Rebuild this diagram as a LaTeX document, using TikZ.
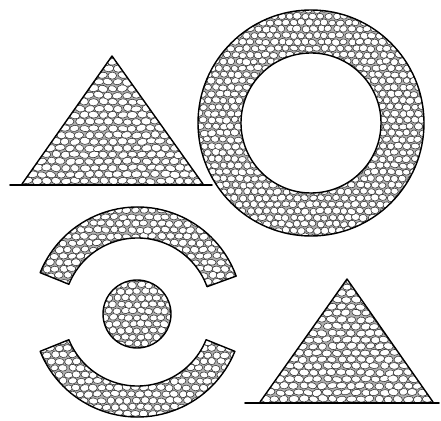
\documentclass[tikz,border=0pt]{standalone}
% Cobblestone fill: a staggered, jittered grid of pale stones on dark mortar.
% #1,#2 = first stone centre, #3 = columns-1, #4 = rows-1, #5,#6 = spacing
\newcommand\stonefill[6]{%
  \foreach \j in {0,...,#4}{%
    \foreach \i in {0,...,#3}{%
      \pgfmathsetmacro\sx{#1+\i*#5+mod(\j,2)*#5*0.5+rand*0.9}%
      \pgfmathsetmacro\sy{#2+\j*#6+rand*0.7}%
      \pgfmathsetmacro\ra{#5*0.5*(1+0.12*rand)}%
      \pgfmathsetmacro\rb{#6*0.5*(1+0.12*rand)}%
      \pgfmathsetmacro\rot{rand*15}%
      \filldraw[stone,rotate around={\rot:(\sx,\sy)}] (\sx,\sy) ellipse[x radius=\ra,y radius=\rb];
    }}}
\begin{document}
\begin{tikzpicture}[x=1pt,y=1pt,
  outline/.style={draw=black,line width=1.4pt,line join=round},
  groundline/.style={line width=1.6pt,line cap=round},
  mortar/.style={fill=black!32},
  stone/.style={fill=white,draw=black!80,line width=0.55pt}]
\useasboundingbox (0,0) rectangle (441,420);
\pgfmathsetseed{7}

% heap on the upper left
\begin{scope}
  \clip (22,236) -- (112,364) -- (203,236) -- cycle;
  \fill[mortar] (0,230) rectangle (220,370);
  \stonefill{18}{239}{21}{19}{9.5}{6.6}
\end{scope}
\draw[outline] (22,236) -- (112,364) -- (203,236);
\draw[groundline] (10,235) -- (212,235);

% ring on the upper right
\begin{scope}
  \clip (311,297) circle[radius=113];
  \fill[mortar] (311,297) circle[radius=113];
  \stonefill{196}{183}{30}{35}{7.8}{6.5}
\end{scope}
\fill[white] (311,297) circle[radius=70];
\draw[outline] (311,297) circle[radius=113] (311,297) circle[radius=70];

% two arcs around a disc, lower left
\begin{scope}[shift={(137.5,108)}]
  \begin{scope}
    \clip (20:105) arc[start angle=20,end angle=158,radius=105]
      -- (158:74) arc[start angle=158,end angle=20,radius=74] -- cycle;
    \fill[mortar] (-110,0) rectangle (110,110);
    \stonefill{-108}{30}{26}{12}{8.5}{6.5}
  \end{scope}
  \draw[outline] (20:105) arc[start angle=20,end angle=158,radius=105]
      -- (158:74) arc[start angle=158,end angle=20,radius=74] -- cycle;
  \begin{scope}
    \clip (202:105) arc[start angle=202,end angle=338,radius=105]
      -- (338:74) arc[start angle=338,end angle=202,radius=74] -- cycle;
    \fill[mortar] (-110,-110) rectangle (110,0);
    \stonefill{-108}{-108}{26}{12}{8.5}{6.5}
  \end{scope}
  \draw[outline] (202:105) arc[start angle=202,end angle=338,radius=105]
      -- (338:74) arc[start angle=338,end angle=202,radius=74] -- cycle;
\end{scope}
\begin{scope}
  \clip (137,106) circle[radius=34];
  \fill[mortar] (137,106) circle[radius=34];
  \stonefill{101}{70}{9}{11}{8}{6.5}
\end{scope}
\draw[outline] (137,106) circle[radius=34];

% heap on the lower right
\begin{scope}
  \clip (260,18) -- (347,141) -- (433,18) -- cycle;
  \fill[mortar] (250,10) rectangle (440,150);
  \stonefill{256}{21}{20}{18}{9.5}{6.6}
\end{scope}
\draw[outline] (260,18) -- (347,141) -- (433,18);
\draw[groundline] (245,17) -- (439,17);
\end{tikzpicture}
\end{document}
